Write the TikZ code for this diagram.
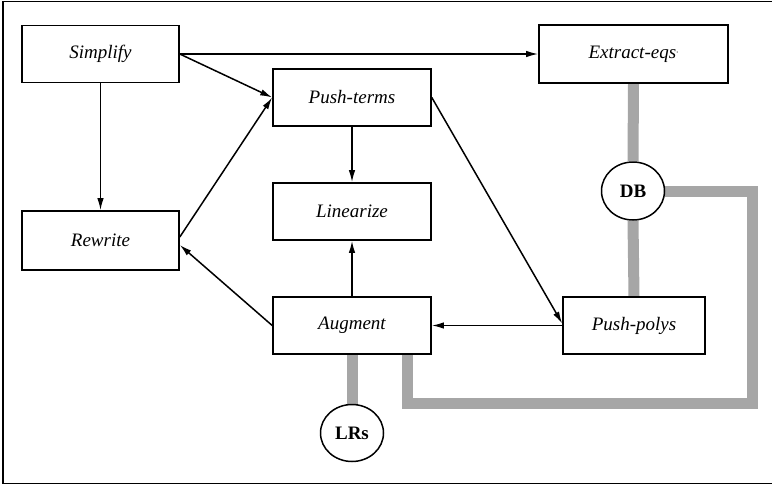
\documentclass[tikz,border=0pt]{standalone}
\usepackage{fontspec}
\setmainfont{Liberation Serif}
\usetikzlibrary{arrows.meta,shapes.geometric,backgrounds}
\begin{document}
\begin{tikzpicture}[x=1pt,y=-1pt,
  proc/.style={draw,line width=1.6pt,fill=white,inner sep=0pt,
    font=\fontsize{19}{22}\selectfont\itshape},
  store/.style={draw,ellipse,line width=1.5pt,fill=white,inner sep=0pt,
    font=\fontsize{19}{22}\selectfont\bfseries},
  flow/.style={line width=1.5pt,-{Latex[length=12pt,width=6.5pt]}},
  data/.style={line width=11pt,black!35,line join=miter}]
\useasboundingbox (0,0) rectangle (772,488);
% frame
\draw[line width=1.8pt] (772,1.5) -- (3,1.5) -- (3,483.5) -- (772,483.5);

% processes
\node[proc,minimum width=157pt,minimum height=57pt] (simplify) at (100.5,54) {Simplify};
\node[proc,minimum width=157pt,minimum height=59pt] (rewrite) at (100.5,240.5) {Rewrite};
\node[proc,minimum width=158pt,minimum height=57pt] (pushterms) at (352,97.5) {Push-terms};
\node[proc,minimum width=158pt,minimum height=57pt] (linearize) at (352,211.5) {Linearize};
\node[proc,minimum width=158pt,minimum height=57pt] (augment) at (352,325.5) {Augment};
\node[proc,minimum width=189pt,minimum height=58pt] (extract) at (633.5,54) {Extract-eqs\raisebox{0.3ex}{\small\textperiodcentered}};
\node[proc,minimum width=142pt,minimum height=57pt] (pushpolys) at (634,325.5) {Push-polys};

% data stores
\node[store,minimum width=63pt,minimum height=58pt] (db) at (633,191) {DB};
\node[store,minimum width=63pt,minimum height=57pt] (lrs) at (352,433) {LRs};

% corners of the DB link
\coordinate (c1) at (752,191);
\coordinate (c2) at (752,403);
\coordinate (c3) at (407,403);
\coordinate (c4) at (407,354);

% data links
\begin{scope}[on background layer]
  \draw[data] (extract.south) -- (db.north);
  \draw[data] (db.south) -- (pushpolys.north);
  \draw[data] (db.east) -- (c1) -- (c2) -- (c3) -- (c4);
  \draw[data] (augment.south) -- (lrs.north);
\end{scope}

% control flow
\draw[flow] (simplify.east) -- (extract.west);
\draw[flow] (simplify.east) -- (pushterms.west);
\draw[flow] (simplify.south) -- (rewrite.north);
\draw[flow] ([yshift=3.5pt]rewrite.east) -- (pushterms.west);
\draw[flow] (augment.west) -- ([yshift=-4.5pt]rewrite.east);
\draw[flow] (pushterms.south) -- (linearize.north);
\draw[flow] (augment.north) -- (linearize.south);
\draw[flow] (pushterms.east) -- ([yshift=2pt]pushpolys.west);
\draw[flow] (pushpolys.west) -- (augment.east);
\end{tikzpicture}
\end{document}
